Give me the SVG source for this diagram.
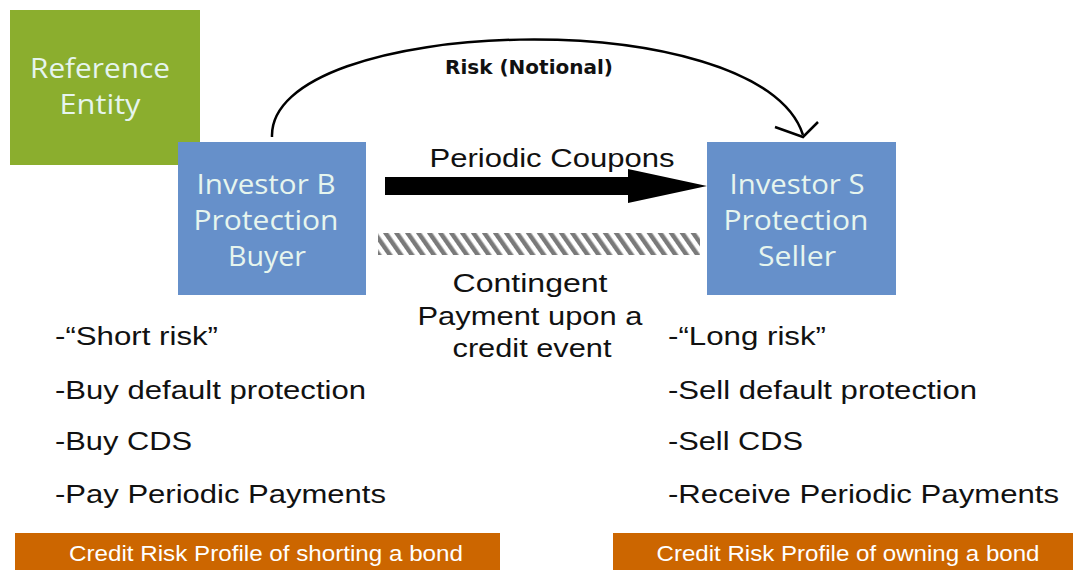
<svg xmlns="http://www.w3.org/2000/svg" width="1073" height="570" viewBox="0 0 1073 570">
<defs>
<pattern id="hatch" width="9" height="40" patternUnits="userSpaceOnUse" patternTransform="rotate(-35)">
<rect x="0" y="0" width="4.5" height="40" fill="#7a7a7a"/>
</pattern>
<style>
.node-text{font-family:"Open Sans","DejaVu Sans",sans-serif;font-size:28px;fill:#e6f5ee;text-anchor:middle}
.list{font-family:"Liberation Sans",Arial,sans-serif;font-size:26px;fill:#111}
.mid{font-family:"Liberation Sans",Arial,sans-serif;font-size:26px;fill:#111;text-anchor:middle}
.bar-text{font-family:"Liberation Sans",Arial,sans-serif;font-size:22px;fill:#ffffff;text-anchor:middle}
</style>
</defs>
<rect width="1073" height="570" fill="#ffffff"/>

<g id="reference-entity">
<rect x="10" y="10" width="190" height="155" fill="#8bae2e"/>
<text class="node-text" x="100" y="78" textLength="140" lengthAdjust="spacingAndGlyphs">Reference</text>
<text class="node-text" x="100" y="114" textLength="81" lengthAdjust="spacingAndGlyphs">Entity</text>
</g>

<g id="investor-b">
<rect x="178" y="142" width="188" height="153" fill="#6690ca"/>
<text class="node-text" x="266" y="194" textLength="139" lengthAdjust="spacingAndGlyphs">Investor B</text>
<text class="node-text" x="266" y="230" textLength="145" lengthAdjust="spacingAndGlyphs">Protection</text>
<text class="node-text" x="267" y="266" textLength="78" lengthAdjust="spacingAndGlyphs">Buyer</text>
</g>

<g id="investor-s">
<rect x="707" y="142" width="189" height="153" fill="#6690ca"/>
<text class="node-text" x="797" y="194" textLength="135" lengthAdjust="spacingAndGlyphs">Investor S</text>
<text class="node-text" x="796" y="230" textLength="145" lengthAdjust="spacingAndGlyphs">Protection</text>
<text class="node-text" x="797" y="266" textLength="78" lengthAdjust="spacingAndGlyphs">Seller</text>
</g>

<g id="connectors">
<path d="M272,137 C268,15 760,0 803,135" fill="none" stroke="#000" stroke-width="2.5"/>
<polyline points="775,127 803,137 818,122" fill="none" stroke="#000" stroke-width="2.5"/>
<polygon points="385,177 628,177 628,169 707,186 628,203 628,195 385,195" fill="#000"/>
<rect x="378" y="233" width="322" height="22" fill="url(#hatch)"/>
</g>

<g id="labels">
<text x="529" y="74" font-family="'DejaVu Sans','Liberation Sans',sans-serif" font-size="19" font-weight="bold" fill="#111" text-anchor="middle" textLength="168" lengthAdjust="spacingAndGlyphs">Risk (Notional)</text>
<text class="mid" x="552" y="167" textLength="245" lengthAdjust="spacingAndGlyphs">Periodic Coupons</text>
<text class="mid" x="530" y="292" textLength="155" lengthAdjust="spacingAndGlyphs">Contingent</text>
<text class="mid" x="530" y="325" textLength="225" lengthAdjust="spacingAndGlyphs">Payment upon a</text>
<text class="mid" x="532" y="357" textLength="159" lengthAdjust="spacingAndGlyphs">credit event</text>
</g>

<g id="buyer-list">
<text class="list" x="55" y="345" textLength="163" lengthAdjust="spacingAndGlyphs">-“Short risk”</text>
<text class="list" x="55" y="399" textLength="311" lengthAdjust="spacingAndGlyphs">-Buy default protection</text>
<text class="list" x="55" y="450" textLength="137" lengthAdjust="spacingAndGlyphs">-Buy CDS</text>
<text class="list" x="55" y="503" textLength="331" lengthAdjust="spacingAndGlyphs">-Pay Periodic Payments</text>
</g>

<g id="seller-list">
<text class="list" x="668" y="345" textLength="158" lengthAdjust="spacingAndGlyphs">-“Long risk”</text>
<text class="list" x="668" y="399" textLength="309" lengthAdjust="spacingAndGlyphs">-Sell default protection</text>
<text class="list" x="668" y="450" textLength="135" lengthAdjust="spacingAndGlyphs">-Sell CDS</text>
<text class="list" x="668" y="503" textLength="391" lengthAdjust="spacingAndGlyphs">-Receive Periodic Payments</text>
</g>

<g id="short-profile">
<rect x="15" y="533" width="485" height="40" fill="#cc6600"/>
<text class="bar-text" x="266" y="561" textLength="394" lengthAdjust="spacingAndGlyphs">Credit Risk Profile of shorting a bond</text>
</g>

<g id="long-profile">
<rect x="613" y="533" width="460" height="40" fill="#cc6600"/>
<text class="bar-text" x="848" y="561" textLength="383" lengthAdjust="spacingAndGlyphs">Credit Risk Profile of owning a bond</text>
</g>
</svg>
